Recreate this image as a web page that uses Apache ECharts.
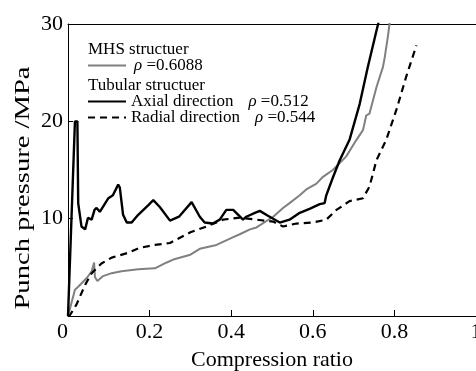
<!DOCTYPE html>
<html>
<head>
<meta charset="utf-8">
<script src="https://cdn.jsdelivr.net/npm/echarts@6/dist/echarts.min.js"></script>
<style>
  html, body { margin: 0; padding: 0; background: #fff; }
  #chart { width: 476px; height: 371px; }
</style>
</head>
<body>
<div id="chart"></div>
<script>
const FONT = '"Liberation Serif", "Times New Roman", serif'

const xTicks = ['0', '0.2', '0.4', '0.6', '0.8', '1']
const yTicks = ['', '10', '20', '30']

// MHS structure, rho = 0.6088 (grey)
const mhsX = [0, 0.004, 0.017, 0.025, 0.046, 0.058, 0.064, 0.066, 0.072, 0.086, 0.107, 0.131, 0.172, 0.213, 0.242, 0.258, 0.3, 0.323, 0.364, 0.405, 0.421, 0.446, 0.462, 0.503, 0.527, 0.543, 0.568, 0.584, 0.609, 0.625, 0.649, 0.682, 0.707, 0.723, 0.731, 0.739, 0.756, 0.772, 0.776, 0.784, 0.788, 0.79]
const mhsY = [0, 0.2, 2.7, 3.0, 3.9, 4.6, 5.5, 4.0, 3.6, 4.1, 4.4, 4.6, 4.8, 4.9, 5.5, 5.8, 6.3, 6.9, 7.3, 8.1, 8.4, 8.9, 9.1, 10.2, 11.1, 11.6, 12.4, 13.0, 13.6, 14.3, 15.0, 16.4, 18.1, 19.1, 20.6, 20.8, 23.5, 25.6, 26.5, 28.7, 30, 31]

// Tubular, axial direction, rho = 0.512 (solid black)
const axialX = [0, 0.017, 0.023, 0.025, 0.033, 0.042, 0.049, 0.058, 0.065, 0.07, 0.078, 0.099, 0.11, 0.123, 0.127, 0.135, 0.144, 0.156, 0.172, 0.197, 0.209, 0.225, 0.25, 0.272, 0.303, 0.323, 0.335, 0.355, 0.372, 0.388, 0.405, 0.429, 0.437, 0.458, 0.47, 0.49, 0.519, 0.543, 0.568, 0.592, 0.617, 0.629, 0.633, 0.649, 0.666, 0.69, 0.715, 0.735, 0.76, 0.765]
const axialY = [0, 20, 20, 11.6, 9.2, 8.9, 10.1, 9.9, 10.9, 11.1, 10.7, 12.1, 12.4, 13.5, 13.2, 10.4, 9.6, 9.6, 10.4, 11.4, 11.9, 11.2, 9.8, 10.2, 11.7, 10.2, 9.6, 9.5, 9.9, 10.9, 10.9, 9.9, 10.2, 10.6, 10.8, 10.3, 9.6, 9.9, 10.6, 11.0, 11.5, 11.6, 12.4, 14.2, 16.0, 18.1, 21.8, 25.6, 30, 31]

// Tubular, radial direction, rho = 0.544 (dashed black)
const radialX = [0, 0.005, 0.021, 0.042, 0.058, 0.082, 0.107, 0.148, 0.176, 0.213, 0.25, 0.3, 0.34, 0.38, 0.421, 0.462, 0.503, 0.527, 0.56, 0.6, 0.633, 0.658, 0.69, 0.723, 0.739, 0.756, 0.78, 0.805, 0.829, 0.854]
const radialY = [0, 0.1, 1.2, 3.2, 4.4, 5.4, 6.0, 6.5, 7.0, 7.3, 7.5, 8.6, 9.2, 9.9, 10.1, 9.9, 9.7, 9.2, 9.5, 9.6, 9.9, 10.9, 11.8, 12.1, 13.3, 16.0, 18.1, 21.2, 24.6, 27.8]

const pairs = (xs, ys) => xs.map((x, i) => [x, ys[i]])

const rhoText = {
  MHS: '0.6088',
  'Axial direction': '0.512',
  'Radial direction': '0.544',
}

const legendText = {
  fontFamily: FONT,
  fontSize: 17,
  color: '#000',
  rich: {
    g: { width: 15, fontSize: 17, fontFamily: FONT },
    s: { width: 3, fontSize: 17, fontFamily: FONT },
    r: { fontStyle: 'italic', fontSize: 17, fontFamily: FONT, color: '#000' },
    t: { fontSize: 17, fontFamily: FONT, color: '#000' },
  },
}

const chart = echarts.init(document.getElementById('chart'), null, { renderer: 'canvas' })

chart.setOption({
  animation: false,
  textStyle: { fontFamily: FONT },
  grid: { left: 68, right: 0, top: 24, bottom: 55, outerBoundsMode: 'none', containLabel: false },
  legend: [
    {
      data: ['MHS'],
      left: 87,
      top: 57,
      padding: 0,
      itemWidth: 38,
      itemHeight: 14,
      itemStyle: { opacity: 0 },
      textStyle: Object.assign({ lineHeight: 17 }, legendText),
      formatter: (name) => `{s| }{r|ρ}{t| =${rhoText[name]}}`,
    },
    {
      data: ['Axial direction', 'Radial direction'],
      orient: 'vertical',
      left: 87,
      top: 93,
      padding: 0,
      itemGap: -1,
      itemWidth: 38,
      itemHeight: 14,
      itemStyle: { opacity: 0 },
      textStyle: Object.assign({ lineHeight: 15 }, legendText),
      formatter: (name) => `{t|${name}}{g| }{r|ρ}{t| =${rhoText[name]}}`,
    },
  ],
  graphic: [
    {
      type: 'text',
      left: 88,
      top: 41,
      style: { text: 'MHS structuer', font: `17px ${FONT}`, fill: '#000' },
    },
    {
      type: 'text',
      left: 88,
      top: 77,
      style: { text: 'Tubular structuer', font: `17px ${FONT}`, fill: '#000' },
    },
    {
      type: 'text',
      x: 23,
      y: 188,
      rotation: Math.PI / 2,
      scaleX: 1.3,
      style: {
        text: 'Punch pressure /MPa',
        font: `22px ${FONT}`,
        fill: '#000',
        align: 'center',
        verticalAlign: 'middle',
      },
    },
  ],
  xAxis: [
    {
      type: 'value',
      min: 0,
      max: 1,
      interval: 0.2,
      name: 'Compression ratio',
      nameLocation: 'middle',
      nameGap: 33,
      nameTextStyle: { fontFamily: FONT, fontSize: 22, color: '#000' },
      axisLine: { lineStyle: { color: '#000', width: 1 } },
      axisTick: { inside: true, length: 6, lineStyle: { color: '#000' } },
      axisLabel: {
        fontFamily: FONT,
        fontSize: 22,
        color: '#000',
        margin: 5,
        showMaxLabel: true,
        formatter: (v) => {
          const label = xTicks[Math.round(v / 0.2)]
          return label === '0' ? '0  ' : label
        },
      },
      splitLine: { show: false },
    },
    {
      type: 'value',
      position: 'top',
      min: 0,
      max: 1,
      axisLine: { show: true, lineStyle: { color: '#000', width: 1 } },
      axisTick: { show: false },
      axisLabel: { show: false },
      splitLine: { show: false },
    },
  ],
  yAxis: {
    type: 'value',
    min: 0,
    max: 30,
    interval: 10,
    axisLine: { show: true, lineStyle: { color: '#000', width: 1 } },
    axisTick: { show: true, inside: true, length: 5, lineStyle: { color: '#000' } },
    axisLabel: {
      fontFamily: FONT,
      fontSize: 22,
      color: '#000',
      margin: 5,
      formatter: (v) => yTicks[Math.round(v / 10)],
    },
    splitLine: { show: false },
  },
  series: [
    {
      name: 'MHS',
      type: 'line',
      symbol: 'none',
      clip: true,
      lineStyle: { color: '#808080', width: 2 },
      itemStyle: { color: '#808080', opacity: 0 },
      data: pairs(mhsX, mhsY),
      z: 2,
    },
    {
      name: 'Radial direction',
      type: 'line',
      symbol: 'none',
      clip: true,
      lineStyle: { color: '#000', width: 2.2, type: [7, 5] },
      itemStyle: { color: '#000', opacity: 0 },
      data: pairs(radialX, radialY),
      z: 3,
    },
    {
      name: 'Axial direction',
      type: 'line',
      symbol: 'none',
      clip: true,
      lineStyle: { color: '#000', width: 2.4 },
      itemStyle: { color: '#000', opacity: 0 },
      data: pairs(axialX, axialY),
      z: 4,
    },
  ],
})
</script>
</body>
</html>
